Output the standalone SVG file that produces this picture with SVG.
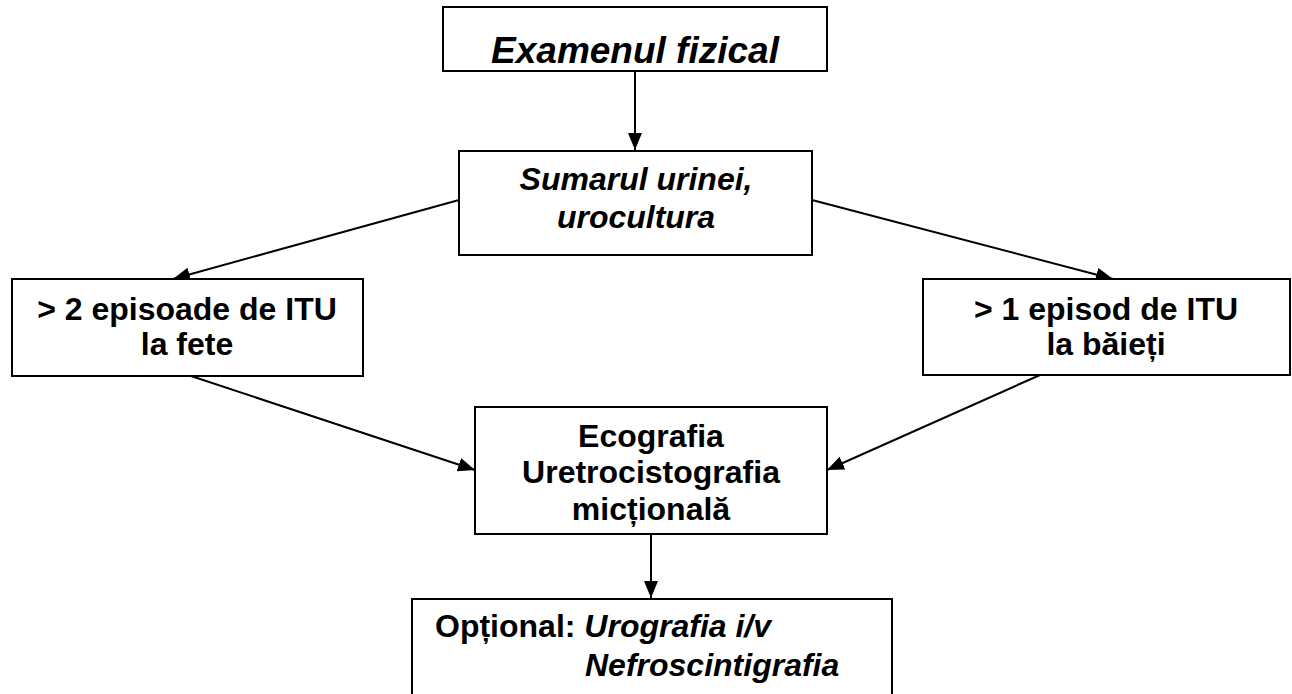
<svg xmlns="http://www.w3.org/2000/svg" width="1292" height="694" viewBox="0 0 1292 694">
<style>
.box{fill:#fff;stroke:#000;stroke-width:2}
.t{font-family:"Liberation Sans",Arial,sans-serif;font-weight:bold;font-size:32px;fill:#000}
.c{text-anchor:middle}
.i{font-style:italic}
.edge{stroke:#000;stroke-width:2;fill:none;marker-end:url(#ah)}
</style>
<defs>
<marker id="ah" markerUnits="userSpaceOnUse" markerWidth="18" markerHeight="14" refX="17" refY="7" orient="auto">
<path d="M0,0 L17,7 L0,14 z" fill="#000"/>
</marker>
</defs>
<rect width="1292" height="694" fill="#fff"/>
<g id="connectors">
<line class="edge" x1="635" y1="71" x2="635" y2="150"/>
<line class="edge" x1="459" y1="200" x2="173" y2="279"/>
<line class="edge" x1="812" y1="200" x2="1113" y2="279"/>
<line class="edge" x1="191" y1="376" x2="475" y2="470"/>
<line class="edge" x1="1040" y1="375" x2="827" y2="470"/>
<line class="edge" x1="651" y1="534" x2="651" y2="598"/>
</g>
<g id="n1">
<rect class="box" x="443" y="7" width="384" height="64"/>
<text class="t c i" x="635" y="63" style="font-size:37px">Examenul fizical</text>
</g>
<g id="n2">
<rect class="box" x="459" y="151" width="353" height="104"/>
<text class="t c i" x="636" y="190">Sumarul urinei,</text>
<text class="t c i" x="636" y="228">urocultura</text>
</g>
<g id="n3">
<rect class="box" x="12" y="279" width="351" height="97"/>
<text class="t c" x="187" y="320">&gt; 2 episoade de ITU</text>
<text class="t c" x="187" y="355">la fete</text>
</g>
<g id="n4">
<rect class="box" x="923" y="279" width="367" height="96"/>
<text class="t c" x="1106" y="320">&gt; 1 episod de ITU</text>
<text class="t c" x="1106" y="355">la băieți</text>
</g>
<g id="n5">
<rect class="box" x="475" y="407" width="352" height="127"/>
<text class="t c" x="651" y="447">Ecografia</text>
<text class="t c" x="651" y="483">Uretrocistografia</text>
<text class="t c" x="651" y="520">micțională</text>
</g>
<g id="n6">
<rect class="box" x="412" y="599" width="480" height="110"/>
<text class="t" x="435" y="637">Opțional: <tspan class="i">Urografia i/v</tspan></text>
<text class="t i" x="585" y="676">Nefroscintigrafia</text>
</g>
</svg>
